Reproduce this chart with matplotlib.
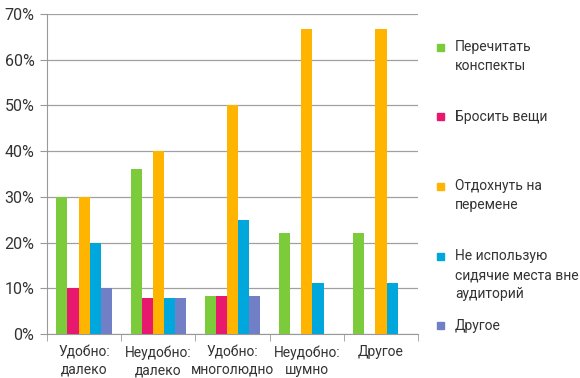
import matplotlib.pyplot as plt
from matplotlib.patches import Rectangle
import numpy as np

plt.rcParams['font.family'] = ['Roboto', 'DejaVu Sans']

categories = ['Удобно:\nдалеко', 'Неудобно:\nдалеко', 'Удобно:\nмноголюдно', 'Неудобно:\nшумно', 'Другое']
series_names = ['Перечитать\nконспекты', 'Бросить вещи', 'Отдохнуть на\nперемене',
                'Не использую\nсидячие места вне\nаудиторий', 'Другое']
reread = [30.0, 36.0, 8.33, 22.2, 22.2]
drop_things = [10.0, 8.0, 8.33, 0, 0]
rest = [30.0, 40.0, 50.0, 66.7, 66.7]
no_seats = [20.0, 8.0, 25.0, 11.1, 11.1]
other = [10.0, 8.0, 8.33, 0, 0]
values = [reread, drop_things, rest, no_seats, other]
colors = ['#7ccb3a', '#e8186f', '#ffb400', '#00a7dc', '#7180c6']

fig = plt.figure(figsize=(5.8, 3.78), dpi=100)
ax = fig.add_axes([0.081, 0.116, 0.64, 0.847])

x = np.arange(len(categories))
w = 0.15
for i, (vals, col) in enumerate(zip(values, colors)):
    ax.bar(x + (i - 2) * w, vals, width=w, color=col, zorder=3)

ax.set_xlim(-0.5, len(categories) - 0.5)
ax.set_ylim(0, 70)
ax.set_yticks(range(0, 71, 10))
ax.set_yticklabels([f'{v}%' for v in range(0, 71, 10)], fontsize=11.5, color='#333333')
ax.set_xticks(x)
ax.set_xticklabels(categories, fontsize=10, color='#333333', linespacing=1.3)
ax.set_xticks(np.arange(-0.5, len(categories), 1), minor=True)
ax.tick_params(axis='x', which='major', length=0, pad=8)
ax.tick_params(axis='x', which='minor', length=5, color='#999999')
ax.tick_params(axis='y', length=5, color='#999999', pad=4)
ax.grid(axis='y', color='#a0a0a0', linewidth=0.9, zorder=0)
for s in ['top', 'right']:
    ax.spines[s].set_visible(False)
for s in ['left', 'bottom']:
    ax.spines[s].set_color('#999999')

# legend: marker aligned with the first line of each entry, like Excel does
W, H = 580, 378
leg_top = 47
leg_step = 69.7
for i, (name, col) in enumerate(zip(series_names, colors)):
    yc = leg_top + i * leg_step
    fig.patches.append(Rectangle(((437) / W, 1 - (yc + 3.5) / H), 7 / W, 7 / H,
                                 transform=fig.transFigure, color=col))
    fig.text(455 / W, 1 - (yc - 7) / H, name, fontsize=10, color='#333333',
             va='top', ha='left', linespacing=1.45)

fig.savefig('out.png', dpi=100)
